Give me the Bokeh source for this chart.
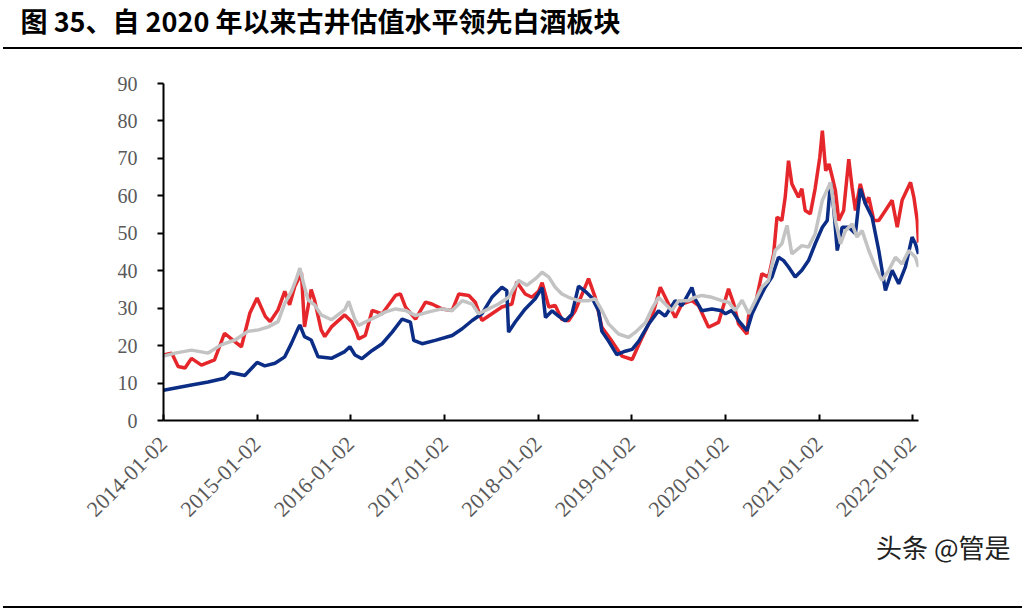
import pandas as pd
from bokeh.plotting import figure
from bokeh.models import (Range1d, FixedTicker, DatetimeTickFormatter, Legend, LegendItem, Title)
from bokeh.embed import file_html
from bokeh.resources import INLINE
from math import pi

title_text = "图 35、自 2020 年以来古井估值水平领先白酒板块"
watermark_text = "头条 @管是"
series_names = ["古井贡酒PE(TTM)", "白酒(申万)PE(TTM)", "食品饮料(申万)PE(TTM)"]
tick_labels = ["2014-01-02", "2015-01-02", "2016-01-02", "2017-01-02", "2018-01-02",
               "2019-01-02", "2020-01-02", "2021-01-02", "2022-01-02"]
y_ticks = [0, 10, 20, 30, 40, 50, 60, 70, 80, 90]

gujing_dates = ["2014-01-02", "2014-02-03", "2014-02-28", "2014-03-27", "2014-04-21", "2014-05-30",
                "2014-07-20", "2014-08-28", "2014-10-08", "2014-11-02", "2014-12-05", "2015-01-02",
                "2015-02-03", "2015-02-22", "2015-03-25", "2015-04-20", "2015-05-09", "2015-05-29",
                "2015-06-24", "2015-07-06", "2015-08-01", "2015-08-14", "2015-09-09", "2015-09-23",
                "2015-10-19", "2015-12-10", "2016-01-06", "2016-01-26", "2016-02-02", "2016-02-28",
                "2016-03-26", "2016-05-04", "2016-06-25", "2016-07-14", "2016-08-03", "2016-09-11",
                "2016-10-20", "2016-11-14", "2016-12-23", "2017-02-01", "2017-02-27", "2017-04-07",
                "2017-05-02", "2017-05-28", "2017-07-06", "2017-08-14", "2017-09-22", "2017-10-11",
                "2017-11-13", "2017-12-09", "2018-01-04", "2018-01-18", "2018-02-13", "2018-03-10",
                "2018-04-05", "2018-05-01", "2018-05-27", "2018-07-18", "2018-08-13", "2018-09-08",
                "2018-10-17", "2018-11-25", "2019-01-04", "2019-02-12", "2019-03-22", "2019-04-24",
                "2019-05-26", "2019-06-21", "2019-07-17", "2019-08-25", "2019-09-20", "2019-10-29",
                "2019-12-07", "2020-01-15", "2020-02-04", "2020-02-23", "2020-03-27", "2020-04-03",
                "2020-04-29", "2020-05-24", "2020-06-19", "2020-07-09", "2020-07-22", "2020-08-10",
                "2020-08-23", "2020-09-05", "2020-09-18", "2020-10-14", "2020-10-27", "2020-11-09",
                "2020-11-29", "2020-12-18", "2021-01-05", "2021-01-15", "2021-01-28", "2021-02-10",
                "2021-02-23", "2021-03-07", "2021-03-20", "2021-04-08", "2021-04-28", "2021-05-11",
                "2021-05-24", "2021-06-12", "2021-07-02", "2021-07-15", "2021-08-04", "2021-08-23",
                "2021-09-18", "2021-10-14", "2021-11-03", "2021-11-22", "2021-12-25", "2022-01-07",
                "2022-01-20", "2022-01-25"]
gujing_pe = [17.5, 18.0, 14.4, 14.0, 16.6, 14.8,
             16.2, 23.3, 21.0, 19.7, 28.7, 32.7,
             27.8, 26.4, 29.6, 34.5, 30.9, 35.8,
             39.4, 25.0, 35.0, 32.2, 24.2, 22.4,
             25.0, 28.2, 26.4, 23.3, 21.8, 22.7,
             29.4, 28.5, 33.4, 33.8, 30.3, 27.1,
             31.6, 31.1, 29.8, 29.4, 33.8, 33.4,
             31.6, 26.7, 28.5, 30.3, 31.1, 37.0,
             33.8, 32.9, 34.5, 36.8, 30.3, 30.7,
             27.0, 26.6, 29.3, 37.9, 32.9, 24.9,
             21.2, 17.2, 16.3, 22.2, 27.5, 35.6,
             31.1, 27.5, 31.1, 32.0, 30.7, 24.9,
             26.2, 35.2, 31.2, 25.8, 23.1, 28.5,
             31.2, 39.2, 38.3, 44.5, 54.3, 53.4,
             59.6, 69.4, 63.2, 59.6, 61.9, 56.1,
             55.2, 62.0, 70.3, 77.4, 66.7, 68.5,
             64.9, 61.4, 53.4, 56.1, 69.8, 62.3,
             56.1, 63.2, 57.9, 59.6, 53.4, 53.4,
             56.1, 58.8, 51.6, 58.8, 63.6, 59.6,
             53.4, 47.5]

baijiu_dates = ["2014-01-02", "2014-04-21", "2014-06-25", "2014-08-28", "2014-09-20", "2014-11-15",
                "2015-01-02", "2015-02-01", "2015-03-13", "2015-04-20", "2015-05-16", "2015-06-11",
                "2015-06-18", "2015-07-06", "2015-08-01", "2015-08-28", "2015-10-19", "2015-12-10",
                "2015-12-30", "2016-01-19", "2016-02-15", "2016-03-26", "2016-05-04", "2016-06-12",
                "2016-07-21", "2016-08-22", "2016-09-04", "2016-10-07", "2016-11-27", "2017-02-01",
                "2017-03-12", "2017-04-20", "2017-05-28", "2017-07-06", "2017-08-14", "2017-09-02",
                "2017-09-09", "2017-10-05", "2017-11-13", "2017-12-22", "2018-01-18", "2018-01-31",
                "2018-02-26", "2018-03-23", "2018-04-18", "2018-05-14", "2018-06-09", "2018-07-05",
                "2018-07-31", "2018-08-26", "2018-09-08", "2018-10-04", "2018-11-05", "2018-12-08",
                "2019-01-04", "2019-01-30", "2019-03-09", "2019-04-17", "2019-05-13", "2019-06-21",
                "2019-07-17", "2019-08-25", "2019-09-07", "2019-10-03", "2019-11-11", "2019-12-20",
                "2020-01-03", "2020-01-28", "2020-02-23", "2020-03-27", "2020-04-16", "2020-05-11",
                "2020-06-06", "2020-07-02", "2020-07-28", "2020-08-17", "2020-09-05", "2020-10-01",
                "2020-10-27", "2020-11-22", "2020-12-18", "2021-01-15", "2021-02-03", "2021-02-16",
                "2021-03-01", "2021-03-14", "2021-04-02", "2021-04-28", "2021-05-24", "2021-06-12",
                "2021-07-02", "2021-07-28", "2021-08-23", "2021-09-18", "2021-10-14", "2021-11-09",
                "2021-12-05", "2021-12-31", "2022-01-13", "2022-01-25"]
baijiu_pe = [8.1, 9.5, 10.3, 11.3, 12.8, 12.0,
             15.5, 14.6, 15.3, 17.0, 20.6, 24.6,
             25.5, 22.4, 21.5, 17.0, 16.6, 18.4,
             19.7, 17.5, 16.5, 18.7, 20.5, 23.6,
             27.1, 26.3, 21.4, 20.5, 21.4, 22.7,
             24.5, 26.7, 28.5, 32.9, 35.6, 34.7,
             23.6, 26.3, 29.8, 32.5, 35.5, 27.5,
             29.3, 27.9, 26.6, 28.4, 35.9, 34.5,
             32.8, 29.3, 23.8, 21.2, 17.6, 18.5,
             19.0, 21.2, 25.7, 29.3, 27.9, 32.0,
             30.7, 35.5, 32.4, 29.3, 29.8, 29.3,
             28.5, 29.4, 26.7, 24.0, 28.5, 32.1,
             35.6, 38.3, 43.6, 42.7, 41.0, 38.3,
             40.1, 42.7, 47.2, 51.6, 53.4, 63.6,
             56.1, 45.4, 51.6, 51.6, 49.9, 61.9,
             57.9, 54.3, 45.4, 34.7, 40.1, 36.5,
             41.0, 49.0, 47.2, 44.5]

food_dates = ["2014-01-02", "2014-02-16", "2014-04-21", "2014-06-25", "2014-08-15", "2014-10-08",
              "2014-11-27", "2015-01-08", "2015-02-15", "2015-03-25", "2015-04-20", "2015-05-16",
              "2015-06-03", "2015-06-18", "2015-07-02", "2015-07-20", "2015-08-14", "2015-09-09",
              "2015-10-19", "2015-12-10", "2015-12-25", "2016-01-19", "2016-02-02", "2016-02-28",
              "2016-04-08", "2016-05-17", "2016-06-25", "2016-08-03", "2016-09-11", "2016-11-02",
              "2016-12-23", "2017-02-01", "2017-03-12", "2017-04-20", "2017-05-15", "2017-06-23",
              "2017-08-01", "2017-09-09", "2017-10-18", "2017-11-19", "2017-12-22", "2018-01-18",
              "2018-02-13", "2018-03-10", "2018-04-05", "2018-05-01", "2018-06-09", "2018-07-18",
              "2018-08-13", "2018-09-08", "2018-10-04", "2018-11-12", "2018-12-21", "2019-01-17",
              "2019-02-25", "2019-03-22", "2019-04-17", "2019-05-13", "2019-06-08", "2019-07-04",
              "2019-08-12", "2019-09-07", "2019-10-03", "2019-11-11", "2019-12-20", "2020-01-15",
              "2020-02-10", "2020-03-08", "2020-04-03", "2020-04-29", "2020-05-24", "2020-06-19",
              "2020-07-15", "2020-08-10", "2020-08-30", "2020-09-18", "2020-10-27", "2020-11-22",
              "2020-12-18", "2021-01-15", "2021-02-16", "2021-03-07", "2021-03-27", "2021-04-15",
              "2021-05-11", "2021-05-30", "2021-06-19", "2021-07-15", "2021-08-10", "2021-09-05",
              "2021-10-01", "2021-10-27", "2021-11-22", "2021-12-18", "2022-01-13", "2022-01-25"]
food_pe = [17.2, 18.0, 18.8, 18.0, 20.2, 21.5,
           23.8, 24.2, 25.0, 26.4, 31.3, 34.5,
           37.6, 40.7, 36.7, 32.2, 30.9, 28.2,
           26.9, 29.6, 31.8, 26.9, 25.4, 26.3,
           27.6, 29.0, 29.8, 29.4, 28.0, 29.0,
           29.8, 29.4, 32.0, 31.1, 28.5, 29.8,
           31.1, 32.9, 37.4, 36.1, 37.8, 39.6,
           38.3, 35.6, 33.8, 32.9, 32.0, 32.0,
           32.5, 29.4, 25.8, 23.1, 22.2, 23.6,
           26.2, 29.8, 32.9, 31.1, 29.4, 32.0,
           32.0, 32.9, 33.4, 32.9, 32.0, 31.6,
           29.4, 32.1, 28.5, 32.1, 35.6, 37.4,
           45.4, 47.2, 52.1, 44.5, 46.7, 46.3,
           49.9, 58.8, 63.6, 53.4, 47.2, 50.7,
           52.5, 49.0, 50.7, 45.4, 41.0, 37.4,
           40.1, 43.6, 41.8, 45.4, 43.6, 41.0]

colors = ["#E5262B", "#0B2D85", "#C3C3C3"]
W, H = 1025, 615


def ts(s):
    return pd.Timestamp(s)


rules_css = """
:host { position: relative; }
:host::before { content: ""; position: absolute; left: 3px; top: 47px; width: 1019px;
                height: 2px; background: #000; z-index: 10; pointer-events: none; }
:host::after { content: ""; position: absolute; left: 3px; top: 606px; width: 1019px;
               height: 2px; background: #000; z-index: 10; pointer-events: none; }
"""

p = figure(width=W, height=H, frame_width=755, frame_height=337, title=None,
           x_axis_type="datetime", output_backend="svg", toolbar_location=None,
           x_range=Range1d(ts("2014-01-02"), ts("2022-01-25")),
           y_range=Range1d(0, 90),
           min_border_left=163, min_border_right=W - 918, min_border_top=83,
           min_border_bottom=H - 420,
           stylesheets=[rules_css])
p.outline_line_color = None
p.grid.visible = False

# above: a spacer next to the frame, then the title on top
p.add_layout(Title(text=" ", standoff=25, text_font="Noto Sans CJK SC", text_font_size="10px"),
             "above")
p.add_layout(Title(text=title_text, align="left", offset=-143, standoff=0, vertical_align="top",
                   text_font="Noto Sans CJK SC", text_font_size="27px", text_font_style="bold",
                   text_color="black"), "above")

r1 = p.line(pd.to_datetime(gujing_dates), gujing_pe, line_color=colors[0], line_width=3.5)
r2 = p.line(pd.to_datetime(baijiu_dates), baijiu_pe, line_color=colors[1], line_width=3.5)
r3 = p.line(pd.to_datetime(food_dates), food_pe, line_color=colors[2], line_width=3.5)

tick_ms = [ts(t).value // 10**6 for t in tick_labels]
xa = p.xaxis[0]
xa.ticker = FixedTicker(ticks=tick_ms)
fmt = "%Y-%m-%d"
xa.formatter = DatetimeTickFormatter(milliseconds=fmt, seconds=fmt, minsec=fmt, minutes=fmt,
                                     hourmin=fmt, hours=fmt, days=fmt, months=fmt, years=fmt)
xa.major_label_orientation = pi / 4
xa.major_label_text_font = "Liberation Serif"
xa.major_label_text_font_size = "22px"
xa.major_label_text_color = "#595959"
xa.axis_line_color = "black"
xa.axis_line_width = 2
xa.major_tick_in = 6
xa.major_tick_out = 0
xa.major_tick_line_width = 2
xa.minor_tick_line_color = None
xa.major_label_standoff = 20

ya = p.yaxis[0]
ya.ticker = FixedTicker(ticks=y_ticks)
ya.major_label_text_font = "Liberation Serif"
ya.major_label_text_font_size = "20px"
ya.major_label_text_color = "#595959"
ya.axis_line_color = "black"
ya.axis_line_width = 2
ya.major_tick_in = 0
ya.major_tick_out = 6
ya.major_tick_line_width = 2
ya.minor_tick_line_color = None
ya.major_label_standoff = 20

# below: x axis, then the watermark, then the legend at the top of its panel
p.add_layout(Title(text=watermark_text, align="right", offset=-92, standoff=0,
                   text_font="Noto Sans CJK SC", text_font_size="26px",
                   text_font_style="normal", text_color="#222222"), "below")

legend = Legend(items=[LegendItem(label=series_names[0], renderers=[r1]),
                       LegendItem(label=series_names[1], renderers=[r2]),
                       LegendItem(label=series_names[2], renderers=[r3])],
                orientation="horizontal", location="top_center",
                glyph_width=50, label_standoff=4, spacing=8, padding=2, margin=0,
                border_line_color=None, background_fill_alpha=0,
                label_text_font="Liberation Serif", label_text_font_size="23px",
                label_text_color="#595959")
p.add_layout(legend, "below")

open("out.html", "w").write(file_html(p, INLINE))
